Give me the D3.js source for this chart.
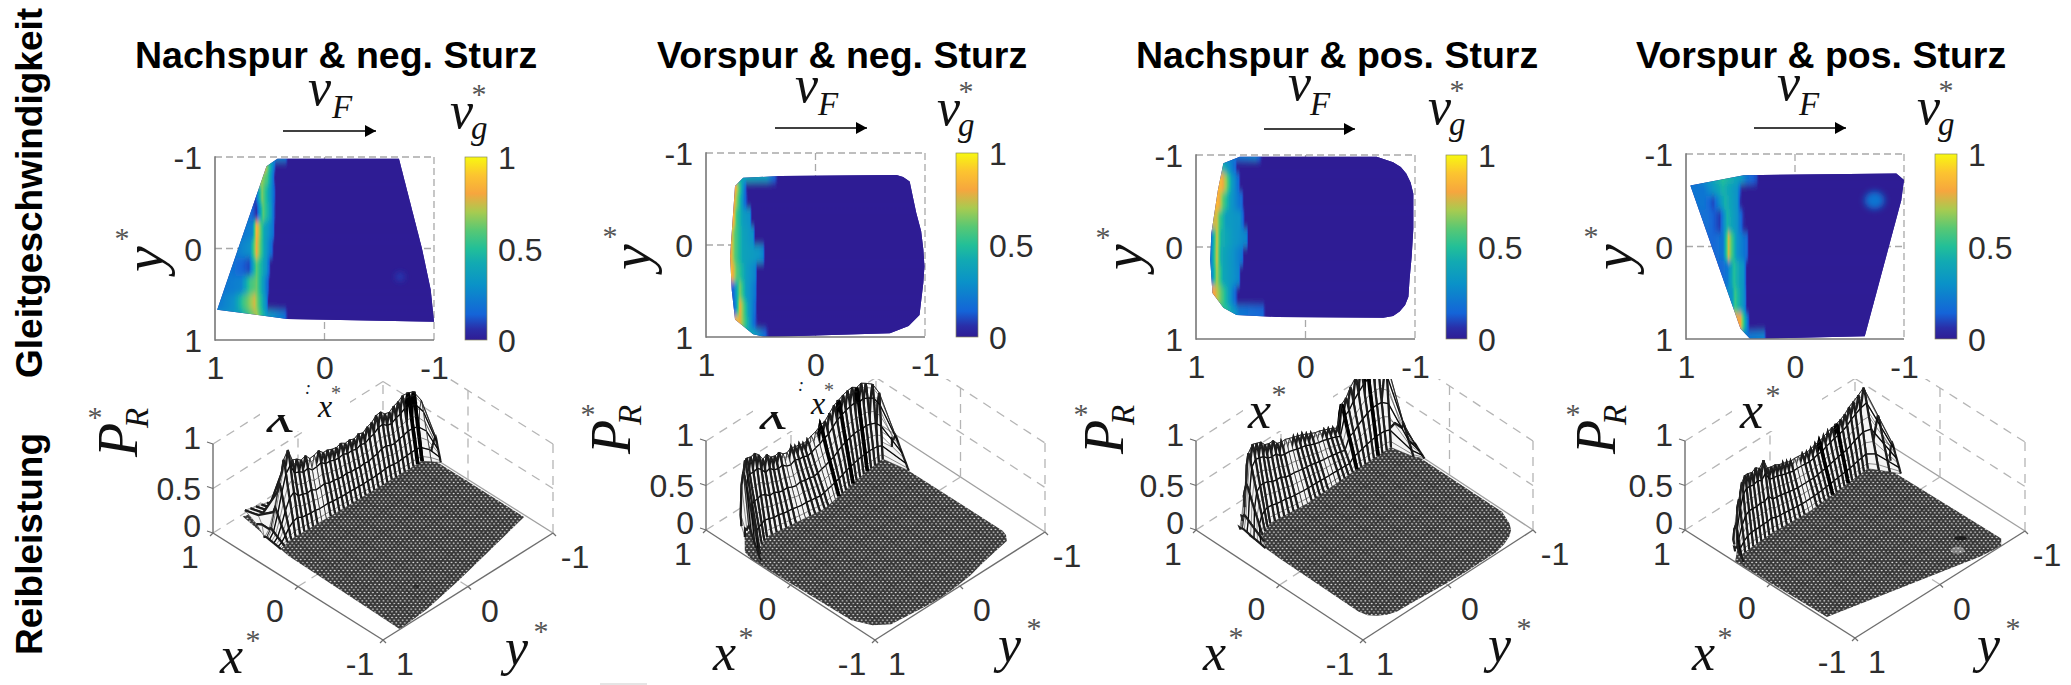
<!DOCTYPE html>
<html><head><meta charset="utf-8">
<script src="https://d3js.org/d3.v7.min.js"></script>
<style>html,body{margin:0;padding:0;background:#fff;overflow:hidden}svg{display:block}</style>
</head><body><svg id="c" width="2071" height="685"></svg>
<script>
// ---------- labels / ticks ----------
const panelTitles = ["Nachspur & neg. Sturz","Vorspur & neg. Sturz","Nachspur & pos. Sturz","Vorspur & pos. Sturz"];
const rowTitles = ["Gleitgeschwindigkeit","Reibleistung"];
const axisTicks = [1,0,-1];
const barTicks = [1,0.5,0];
const zTicks = [1,0.5,0];
const floorGrid = [0.8,0.6,0.4,0.2,0,-0.2,-0.4,-0.6,-0.8];
const colorStops = [0,0.06,0.14,0.3,0.42,0.5,0.6,0.7,0.8,0.9,1];
const colorValues = ["#2f1c94","#2a2ea8","#1464d8","#0a92c8","#12aab2","#22bf98","#58c874","#a8cb50","#f6a63e","#fcc430","#f8f810"];

// ---------- footprint outlines (x*, y*) ----------
const outline1X = [.43,.53,.98,.34,-1,-.97,-.89,-.68];
const outline1Y = [-.98,-.9,.67,.77,.8,.45,0,-.98];
const outline2X = [.66,.735,.78,.765,.735,.57,.46,-.68,-.85,-.95,-.985,-.995,-.985,-.965,-.92,-.89,-.86,-.8,-.74,.32];
const outline2Y = [-.73,-.64,.12,.49,.81,.97,1,.96,.88,.76,.41,.23,.05,-.15,-.35,-.52,-.69,-.74,-.76,-.75];
const outline3X = [.6,.75,.8,.86,.87,.85,.75,.63,.26,-.71,-.8,-.86,-.91,-.94,-.95,-.97,-.985,-.985,-.96,-.92,-.87,-.8,-.65];
const outline3Y = [-.98,-.91,-.62,-.15,.14,.5,.66,.74,.76,.77,.75,.7,.63,.54,.36,.1,-.2,-.58,-.7,-.8,-.87,-.92,-.98];
const outline4X = [.96,.47,-.93,-1,-.975,-.64,.41,.5];
const outline4Y = [-.66,-.77,-.79,-.72,-.5,.97,1,.89];

// ---------- slip velocity rows: [y*, x*, v, x*, v, ...] ----------
const slip1 = [
 [-1,.45,.25,.36,.22,.33,0],
 [-.9,.55,.85,.5,.5,.46,.2,.44,0],
 [-.8,.58,.7,.52,.55,.47,.2,.45,0],
 [-.6,.63,.1,.57,.65,.5,.35,.46,.15,.44,0],
 [-.4,.69,.2,.62,.06,.56,.6,.49,.35,.46,.12,.44,0],
 [-.2,.74,.2,.66,.25,.62,.85,.55,.4,.47,.2,.45,0],
 [0,.8,.22,.68,.3,.62,.8,.55,.4,.48,.15,.46,0],
 [.2,.86,.2,.69,.1,.62,.6,.53,.3,.5,.1,.49,0],
 [.4,.92,.2,.76,.25,.68,.55,.62,.62,.55,.3,.51,.1,.5,0],
 [.6,.98,.2,.83,.3,.74,.55,.64,.75,.57,.45,.53,.25,.51,0],
 [.75,.9,.3,.78,.35,.62,.7,.53,.35,.37,.2,.33,0]];
const slip2 = [
 [-.75,.66,.4,.45,.35,.36,.1,.34,0],
 [-.62,.735,.85,.69,.55,.64,.15,.62,0],
 [-.5,.75,.85,.7,.55,.65,.2,.61,0],
 [-.3,.75,.85,.72,.55,.66,.35,.6,.3,.58,0],
 [-.1,.78,.85,.735,.6,.66,.38,.57,.3,.55,0],
 [.1,.78,.85,.735,.6,.66,.38,.52,.32,.48,.25,.46,0],
 [.3,.77,.88,.72,.6,.63,.35,.55,.25,.53,0],
 [.5,.75,.15,.69,.65,.63,.35,.55,.2,.53,0],
 [.7,.735,.2,.69,.8,.61,.35,.55,.15,.53,0],
 [.85,.705,.85,.63,.5,.57,.2,.52,0],
 [.98,.57,.4,.46,.15,.42,0]];
const slip3 = [
 [-.98,.6,.2,.46,.25,.41,.1,.39,0],
 [-.9,.75,.45,.7,.3,.64,.15,.62,0],
 [-.7,.77,.85,.72,.65,.67,.35,.61,.15,.59,0],
 [-.5,.8,.85,.75,.6,.68,.33,.58,.15,.56,0],
 [-.3,.81,.75,.78,.55,.72,.35,.6,.3,.57,.15,.55,0],
 [-.1,.86,.2,.81,.75,.77,.45,.66,.33,.54,.25,.52,0],
 [.1,.86,.25,.81,.75,.77,.42,.66,.3,.58,.2,.56,0],
 [.3,.85,.3,.81,.7,.75,.4,.61,.25,.59,0],
 [.55,.83,.8,.75,.55,.67,.25,.63,.1,.61,0],
 [.72,.72,.5,.6,.2,.39,.15,.36,0]];
const slip4 = [
 [-.75,.9,.2,.66,.5,.5,.35,.44,.2,.35,.1,.33,0],
 [-.6,.93,.2,.84,.2,.66,.45,.53,.3,.5,.1,.48,0],
 [-.5,.9,.2,.84,.2,.75,.1,.64,.45,.53,.3,.5,.05,.48,0],
 [-.3,.8,.18,.69,.08,.62,.45,.53,.3,.47,.05,.45,0],
 [0,.76,.15,.66,.2,.61,.75,.53,.3,.44,.15,.42,0],
 [.3,.68,.15,.62,.2,.56,.5,.47,.3,.44,0],
 [.6,.58,.3,.55,.55,.5,.4,.46,.25,.44,0],
 [.85,.5,.8,.47,.55,.43,.15,.41,0],
 [.98,.44,.2,.29,.25,.26,0]];
// local slip spots: x*, y*, v
const spot1 = [-.69,.31,.09];
const spot4 = [-.73,-.5,.2];

// ---------- friction power: crest height per mesh row (y* falling in steps of meshStep) ----------
const meshStep = .05;
const meshStart = [.75,.95,.75,.95];
const power1 = [.03,.1,.3,.55,.78,.86,.72,.7,.66,.68,.62,.63,.65,.6,.6,.58,.57,.59,.56,.57,.55,.58,.56,.6,.62,.67,.68,.63,.62,.66,.68,.72,.73,.72,.62,.25];
const power2 = [.3,.8,.88,.86,.84,.85,.8,.72,.74,.68,.66,.67,.62,.6,.63,.6,.6,.57,.58,.6,.62,.66,.68,.74,.8,.83,.86,.88,.89,.86,.88,.85,.83,.72,.3];
const power3 = [.05,.15,.45,.75,.82,.8,.78,.72,.7,.7,.64,.62,.62,.6,.58,.56,.55,.52,.5,.48,.47,.45,.43,.41,.38,.62,.66,.75,.84,.92,.98,1,1,.95,.3,.1];
const power4 = [.12,.3,.55,.7,.74,.72,.7,.72,.68,.74,.62,.6,.59,.56,.54,.52,.5,.5,.49,.48,.47,.48,.5,.5,.53,.55,.57,.58,.6,.63,.68,.71,.76,.82,.55,.28];
// crest / slip-end / footprint-edge position x* along y*: [y* list], [x* list]
const crest1Y=[.75,.5,-.8,-.9,-.95,-1], crest1X=[.62,.62,.57,.54,.5,.38];
const crest2Y=[.97,.9,.8,0,-.6,-.7,-.75], crest2X=[.5,.66,.72,.76,.72,.66,.52];
const crest3Y=[.75,.6,0,-.6,-.85,-.9,-.95,-1], crest3X=[.7,.78,.8,.78,.72,.66,.5,.42];
const crest4Y=[1,.9,.7,0,-.6,-.7,-.75,-.8], crest4X=[.38,.5,.56,.62,.62,.6,.48,.36];
const base1Y=[.75,.6,0,-.9,-1], base1X=[.45,.48,.46,.44,.32];
const base2Y=[.97,.85,.7,.1,-.5,-.7,-.75], base2X=[.38,.52,.58,.5,.6,.62,.36];
const base3Y=[.75,.65,.5,.1,-.5,-.9,-.95,-1], base3X=[.42,.56,.62,.58,.6,.6,.38,.3];
const base4Y=[1,.9,.5,.1,-.3,-.65,-.75,-.8], base4X=[.28,.44,.46,.44,.47,.5,.34,.26];
const edge1Y=[.77,.67,-.9,-1], edge1X=[.34,.98,.53,.43];
const edge2Y=[1,.97,.81,.12,-.64,-.73,-.75], edge2X=[.46,.57,.735,.78,.735,.66,.56];
const edge3Y=[.77,.66,.5,.14,-.62,-.91,-.98], edge3X=[.45,.75,.85,.87,.8,.75,.6];
const edge4Y=[1,.89,-.66,-.77,-.8], edge4X=[.41,.5,.96,.5,.38];
const backZ = [.1,.3,.3,.12];
const shapeT = [0,.08,.2,.35,.5,.65,.8,.92,1];
const shapeZ = [1,.95,.82,.65,.5,.35,.2,.07,0];
const contourT = [.2,.5,.8];
const whiteRows = [[.25,.2,-.95],[.35,.3,0,-.05],[.15,.1,-.2,-.25],[.1,.05]];
const foldRows = [[-.85,-.9],[-.1,-.3,-.5],[-.5,-.75],[-.2,-.4]];

// ---------- layout ----------
const layouts = [
 {box:[215,434,157,340],bar:[465,487],L:[213,533],B:[383,640],R:[553,533],title:135,arrow:[283,376,131],v:[308,105,332,118],vg:[450,128],yL:[163,272,122,234],pd:0,top:0},
 {box:[706,925,153,337],bar:[956,978],L:[706,530],B:[875,640],R:[1045,532],title:657,arrow:[775,867,128],v:[795,102,818,115],vg:[937,125],yL:[650,270,610,232],pd:0,top:0},
 {box:[1196,1415,155,339],bar:[1446,1467],L:[1196,530],B:[1363,640],R:[1533,530],title:1136,arrow:[1264,1355,129],v:[1288,100,1310,115],vg:[1428,124],yL:[1142,270,1103,233],pd:3,top:1},
 {box:[1686,1904,154,339],bar:[1935,1957],L:[1685,530],B:[1855,638],R:[2025,531],title:1636,arrow:[1754,1846,128],v:[1777,100,1799,115],vg:[1917,124],yL:[1632,270,1591,232],pd:6,top:2}];
const zHeight = 89, clipTop = 379;
const sans = "'Liberation Sans',Arial,sans-serif", serif = "'Liberation Serif','Times New Roman',serif";
const tickCol = "#2e2e2e";

const svg = d3.select("#c");
const defs = svg.append("defs");
const color = d3.scaleLinear().domain(colorStops).range(colorValues).clamp(true);

// filters and patterns
defs.append("filter").attr("id","rowBlur").attr("x","-5%").attr("y","-20%").attr("width","110%").attr("height","140%")
  .append("feGaussianBlur").attr("stdDeviation","0.6 3.5");
defs.append("filter").attr("id","spotBlur").attr("x","-100%").attr("y","-100%").attr("width","300%").attr("height","300%")
  .append("feGaussianBlur").attr("stdDeviation","3");
const pat = defs.append("pattern").attr("id","floorDots").attr("patternUnits","userSpaceOnUse").attr("width",4.25).attr("height",5.5);
pat.append("rect").attr("width",4.25).attr("height",5.5).attr("fill","#383838");
pat.selectAll("ellipse").data([[1.06,1.37],[3.19,4.12]]).join("ellipse").attr("cx",d=>d[0]).attr("cy",d=>d[1]).attr("rx",.95).attr("ry",.75).attr("fill","#f0f0f0");
const arrowMarker = defs.append("marker").attr("id","arrowHead").attr("markerUnits","userSpaceOnUse").attr("markerWidth",12).attr("markerHeight",12).attr("refX",11).attr("refY",6).attr("orient","auto");
arrowMarker.append("path").attr("d","M0,0L11,6L0,12Z").attr("fill","#000");

function text(g,str,x,y,size,o={}){
  const t=g.append("text").attr("x",x).attr("y",y).attr("font-size",size)
    .attr("font-family",o.family||serif).attr("fill",o.fill||"#000").text(str);
  if(o.italic) t.attr("font-style","italic");
  if(o.bold) t.attr("font-weight","bold");
  if(o.anchor) t.attr("text-anchor",o.anchor);
  if(o.rot) t.attr("transform",`rotate(${o.rot} ${x} ${y})`);
  return t;
}
function star(g,cx,cy,size=30,rot=0){
  text(g,"*",cx,cy+0.47*size,size,{fill:"#555",anchor:"middle"}).attr("transform",rot?`rotate(${rot} ${cx} ${cy})`:null);
}
const mi=(g,s,x,y,sz,o={})=>text(g,s,x,y,sz,Object.assign({italic:true,fill:"#111"},o));

// row titles
text(svg,rowTitles[0],42,378,37,{family:sans,bold:true,rot:-90});
text(svg,rowTitles[1],42,655,37,{family:sans,bold:true,rot:-90});

const outlines=[[outline1X,outline1Y],[outline2X,outline2Y],[outline3X,outline3Y],[outline4X,outline4Y]];
const slips=[slip1,slip2,slip3,slip4];
const spots=[spot1,null,null,spot4];
const powers=[power1,power2,power3,power4];
const crests=[[crest1Y,crest1X],[crest2Y,crest2X],[crest3Y,crest3X],[crest4Y,crest4X]];
const bases=[[base1Y,base1X],[base2Y,base2X],[base3Y,base3X],[base4Y,base4X]];
const edges=[[edge1Y,edge1X],[edge2Y,edge2X],[edge3Y,edge3X],[edge4Y,edge4X]];

panelTitles.forEach((title,p)=>{
  const lay=layouts[p], g=svg.append("g");
  const [x0,x1,y0,y1]=lay.box;
  const xS=d3.scaleLinear([1,-1],[x0,x1]), yS=d3.scaleLinear([-1,1],[y0,y1]);
  text(g,title,lay.title,67.5,37.5,{family:sans,bold:true});

  // ---- 2D plot frame ----
  const gridCol="#a9a9a9";
  const dash=(gg,a,b,c,d,col=gridCol,w=1.3)=>gg.append("line").attr("x1",a).attr("y1",b).attr("x2",c).attr("y2",d).attr("stroke",col).attr("stroke-width",w).attr("stroke-dasharray","7 4");
  dash(g,x0,y0,x1,y0); dash(g,x1,y0,x1,y1);
  dash(g,xS(0),y0,xS(0),y1); dash(g,x0,yS(0),x1,yS(0));

  // heat rows
  const [ox,oy]=outlines[p];
  const outPts=ox.map((v,i)=>[xS(v),yS(oy[i])]);
  const clipId="foot"+p;
  defs.append("clipPath").attr("id",clipId).append("path").attr("d",d3.line()(outPts)+"Z");
  const heatClip=g.append("g").attr("clip-path",`url(#${clipId})`);
  heatClip.append("rect").attr("x",x0-5).attr("y",y0-5).attr("width",x1-x0+10).attr("height",y1-y0+10).attr("fill",color(0));
  const heat=heatClip.append("g").attr("filter","url(#rowBlur)");
  const rows=slips[p];
  rows.forEach((row,i)=>{
    const y=row[0], id=`sl${p}_${i}`;
    const pairs=d3.range(1,row.length,2).map(k=>[row[k],row[k+1]]);
    const grad=defs.append("linearGradient").attr("id",id).attr("gradientUnits","userSpaceOnUse")
      .attr("x1",xS(1)).attr("x2",xS(-1)).attr("y1",0).attr("y2",0);
    const off=d3.scaleLinear([1,-1],[0,1]);
    pairs.forEach((a,k)=>{
      const b=pairs[k+1];
      if(!b){grad.append("stop").attr("offset",off(a[0])).attr("stop-color",color(a[1]));return;}
      d3.range(0,6).forEach(s=>{const f=s/6;
        grad.append("stop").attr("offset",off(a[0]+(b[0]-a[0])*f)).attr("stop-color",color(a[1]+(b[1]-a[1])*f));});
    });
    const top=i? (rows[i-1][0]+y)/2 : -1.2, bot=i<rows.length-1? (rows[i+1][0]+y)/2 : 1.2;
    heat.append("rect").attr("x",x0-10).attr("width",x1-x0+20).attr("y",yS(top)).attr("height",yS(bot)-yS(top)+.5).attr("fill",`url(#${id})`);
  });
  if(spots[p]){const s=spots[p];
    heatClip.append("ellipse").attr("cx",xS(s[0])).attr("cy",yS(s[1])).attr("rx",p==3?10:4).attr("ry",p==3?9:4)
      .attr("fill",color(s[2])).attr("filter","url(#spotBlur)");}

  // solid left / bottom axis, ticks through d3 axes
  const axCol="#777";
  g.append("line").attr("x1",x0).attr("y1",y0-.7).attr("x2",x0).attr("y2",y1+.7).attr("stroke",axCol).attr("stroke-width",1.6);
  g.append("line").attr("x1",x0).attr("y1",y1).attr("x2",x1).attr("y2",y1).attr("stroke",axCol).attr("stroke-width",1.6);
  const styleAxis=a=>{a.select(".domain").remove();a.selectAll("line").remove();
    a.selectAll("text").attr("font-family",sans).attr("font-size",32).attr("fill",tickCol);};
  g.append("g").attr("transform",`translate(${x0},0)`).call(d3.axisLeft(yS).tickValues(axisTicks).tickFormat(String).tickPadding(13).tickSize(0)).call(styleAxis)
    .attr("font-family",null).selectAll("text").attr("dy","0.36em");
  g.append("g").attr("transform",`translate(0,${y1})`).call(d3.axisBottom(xS).tickValues(axisTicks).tickFormat(String).tickPadding(16).tickSize(0)).call(styleAxis)
    .selectAll("text").attr("dy","0.72em");

  // y* label
  const [yb,ys,sx,sy]=lay.yL;
  mi(g,"y",yb,ys,58,{rot:-90});
  star(g,sx,sy,30);

  // travel arrow, v_F
  const [a0,a1,ay]=lay.arrow;
  g.append("line").attr("x1",a0).attr("x2",a1).attr("y1",ay).attr("y2",ay).attr("stroke","#000").attr("stroke-width",1.6).attr("marker-end","url(#arrowHead)");
  mi(g,"v",lay.v[0],lay.v[1],52);
  mi(g,"F",lay.v[2],lay.v[3],33);

  // ---- colour bar ----
  const [b0,b1]=lay.bar, barS=d3.scaleLinear([0,1],[y1,y0]);
  const bid="bar"+p, bg=defs.append("linearGradient").attr("id",bid).attr("x1",0).attr("x2",0).attr("y1",1).attr("y2",0);
  colorStops.forEach((s,i)=>bg.append("stop").attr("offset",s).attr("stop-color",colorValues[i]));
  g.append("rect").attr("x",b0).attr("y",y0).attr("width",b1-b0).attr("height",y1-y0).attr("fill",`url(#${bid})`).attr("stroke","#8a8a60").attr("stroke-width",.7);
  g.append("g").attr("transform",`translate(${b1},0)`).call(d3.axisRight(barS).tickValues(barTicks).tickFormat(String).tickPadding(11).tickSize(0)).call(styleAxis)
    .selectAll("text").attr("dy","0.36em");
  const [vgx,vgy]=lay.vg;
  mi(g,"v",vgx,vgy,52);
  mi(g,"g",vgx+21,vgy+11,33);
  star(g,vgx+29,vgy-38,30);

  // ---- 3D plot ----
  const L=lay.L,B=lay.B,R=lay.R;
  const uS=d3.scaleLinear([1,-1],[0,1]), vS=d3.scaleLinear([1,-1],[0,1]), zS=d3.scaleLinear([0,1],[0,zHeight]);
  const proj=(x,y,z=0)=>[L[0]+uS(x)*(B[0]-L[0])+vS(y)*(R[0]-B[0]), L[1]+uS(x)*(B[1]-L[1])+vS(y)*(R[1]-B[1])-zS(z)];
  const pid="top"+p;
  defs.append("clipPath").attr("id",pid).append("rect").attr("x",L[0]-60).attr("y",clipTop).attr("width",R[0]-L[0]+120).attr("height",320);
  const s3=g.append("g").attr("clip-path",`url(#${pid})`);
  const lineP=(gg,a,b,o={})=>{const A=proj(...a),C=proj(...b);
    const l=gg.append("line").attr("x1",A[0]).attr("y1",A[1]).attr("x2",C[0]).attr("y2",C[1]).attr("stroke",o.c||"#b5b5b5").attr("stroke-width",o.w||1.3);
    if(!o.solid) l.attr("stroke-dasharray","9 7");};
  // back walls
  zTicks.forEach(z=>{
    lineP(s3,[1,1,z],[1,-1,z]);
    lineP(s3,[1,-1,z],[-1,-1,z],z==0?{solid:true,c:"#a0a0a0"}:{});
  });
  lineP(s3,[1,-1,0],[1,-1,1]);
  lineP(s3,[1,0,0],[1,0,1]);
  lineP(s3,[0,-1,0],[0,-1,1]);
  lineP(s3,[-1,-1,0],[-1,-1,1]);
  lineP(s3,[0,1,0],[0,-1,0]);
  lineP(s3,[1,0,0],[-1,0,0]);
  // white box behind the upper x* label
  s3.append("rect").attr("x",L[0]+47).attr("y",clipTop).attr("width",90).attr("height",52).attr("fill","#fff");

  // floor mesh
  const floorPts=ox.map((v,i)=>proj(v,oy[i]));
  const fid="floor"+p;
  defs.append("clipPath").attr("id",fid).append("path").attr("d",d3.line()(floorPts)+"Z");
  s3.append("path").attr("d",d3.line()(floorPts)+"Z").attr("fill","url(#floorDots)");
  const fg=s3.append("g").attr("clip-path",`url(#${fid})`);
  floorGrid.forEach(v=>{lineP(fg,[v,1],[v,-1],{solid:true,c:"#222",w:.7});lineP(fg,[1,v],[-1,v],{solid:true,c:"#222",w:.7});});
  fg.selectAll("line").attr("stroke-opacity",.45);
  if(spots[p]){const s=spots[p],q=proj(s[0],s[1]);
    fg.append("ellipse").attr("cx",q[0]+1).attr("cy",q[1]-(p==3?5:0)).attr("rx",p==3?6.5:3).attr("ry",p==3?2.2:2).attr("fill","#111").attr("opacity",p==3?.8:.5);
    if(p==3) fg.append("ellipse").attr("cx",q[0]-2).attr("cy",q[1]+7).attr("rx",7).attr("ry",3.5).attr("fill","#fff").attr("opacity",.35);}

  // ridge mesh, far rows first
  const power=powers[p];
  const crestF=d3.scaleLinear().domain(crests[p][0]).range(crests[p][1]).clamp(true);
  const baseF=d3.scaleLinear().domain(bases[p][0]).range(bases[p][1]).clamp(true);
  const edgeF=d3.scaleLinear().domain(edges[p][0]).range(edges[p][1]).clamp(true);
  const shape=d3.scaleLinear().domain(shapeT).range(shapeZ);
  const rowOf=i=>{
    const y=+(meshStart[p]-i*meshStep).toFixed(2);
    const c=crestF(y), b=baseF(y), e=Math.max(edgeF(y),c+.02), h=power[i], bz=Math.min(backZ[p],h*.8);
    const pts=[[e,y,bz*.6],[(e+c)/2+.02,y,bz],[c+.02,y,h*.8],[c,y,h]];
    shapeT.slice(1).forEach(t=>pts.push([c+(b-c)*t,y,h*shape(t)]));
    return {y,pts,cont:contourT.map(t=>proj(c+(b-c)*t,y,h*shape(t)))};
  };
  const meshRows=power.map((_,i)=>rowOf(i));
  const lg=d3.line();
  const mg=s3.append("g");
  const rowStroke=(sel,y)=>{
    const isWhite=whiteRows[p].includes(y), isFold=foldRows[p].includes(y);
    sel.attr("fill","none").attr("stroke",isFold?"#000":"#1c1c1c").attr("stroke-width",isFold?3.6:(isWhite?.7:2.2));
  };
  d3.range(power.length-1,0,-1).forEach(i=>{
    // strip between far row (i) and nearer row (i-1)
    const far=meshRows[i], near=meshRows[i-1];
    const fp=far.pts.map(q=>proj(...q)), np=near.pts.map(q=>proj(...q));
    mg.append("path").attr("d",lg(fp.concat(np.slice().reverse()))+"Z").attr("fill","#f4f4f4").attr("stroke","none");
    mg.append("path").attr("d",lg(fp)).call(rowStroke,far.y);
    fp.forEach((q,k)=>{
      mg.append("line").attr("x1",q[0]).attr("y1",q[1]).attr("x2",np[k][0]).attr("y2",np[k][1]).attr("stroke","#333").attr("stroke-width",.55);
    });
    near.cont.forEach((q,k)=>{
      mg.append("line").attr("x1",far.cont[k][0]).attr("y1",far.cont[k][1]).attr("x2",q[0]).attr("y2",q[1]).attr("stroke","#0a0a0a").attr("stroke-width",1.3);
    });
    mg.append("path").attr("d",lg(np)).call(rowStroke,near.y);
  });
  // crest outline
  mg.append("path").attr("d",lg(meshRows.map(r=>proj(...r.pts[3])))).attr("fill","none").attr("stroke","#222").attr("stroke-width",.9);

  // 3D axes
  const ax=(a,b)=>lineP(g,a,b,{solid:true,c:"#6e6e6e",w:1.4});
  ax([1,1,0],[-1,1,0]); ax([-1,1,0],[-1,-1,0]); ax([1,1,0],[1,1,1]);
  zTicks.forEach(z=>{const q=proj(1,1,z);g.append("line").attr("x1",q[0]-6).attr("y1",q[1]-2).attr("x2",q[0]).attr("y2",q[1]).attr("stroke","#6e6e6e").attr("stroke-width",1.2);
    text(g,z,q[0]-12,q[1]+ (z==1?5:(z==.5?11:4)),32,{family:sans,fill:tickCol,anchor:"end"});});
  axisTicks.forEach(v=>{
    const q=proj(v,1,0), r=proj(-1,v,0);
    g.append("line").attr("x1",q[0]-3).attr("y1",q[1]+3).attr("x2",q[0]).attr("y2",q[1]).attr("stroke","#6e6e6e").attr("stroke-width",1.2);
    g.append("line").attr("x1",r[0]+3).attr("y1",r[1]+3).attr("x2",r[0]).attr("y2",r[1]).attr("stroke","#6e6e6e").attr("stroke-width",1.2);
    text(g,v,q[0]-23,q[1]+35,32,{family:sans,fill:tickCol,anchor:"middle"});
    text(g,v,r[0]+22,r[1]+35,32,{family:sans,fill:tickCol,anchor:"middle"});
  });

  // P_R*
  const d=lay.pd;
  mi(g,"P",L[0]-76+d,L[1]-76,56,{rot:-90});
  mi(g,"R",L[0]-65+d,L[1]-105,33,{rot:-90});
  star(g,L[0]-118+d,L[1]-120,30);
  // x*, y* lower labels
  mi(g,"x",L[0]+7,L[1]+140,52);
  star(g,L[0]+40,L[1]+103,30);
  mi(g,"y",L[0]+292,L[1]+132,52);
  star(g,L[0]+328,L[1]+94,30);
  // upper x* label, partly covered by the 2D plot above
  if(lay.top===0){
    const cid="lam"+p;
    defs.append("clipPath").attr("id",cid).append("rect").attr("x",L[0]+40).attr("y",L[1]-118).attr("width",60).attr("height",40);
    mi(g,"x",L[0]+54,L[1]-101,62).attr("clip-path",`url(#${cid})`);
    mi(g,"x",L[0]+105,L[1]-116,32);
    star(g,L[0]+123,L[1]-142,20);
    mi(g,":",L[0]+92,L[1]-139,18,{fill:"#123"});
  } else if(lay.top===1){
    mi(g,"x",L[0]+52,L[1]-102,52);
    const cid="st"+p;
    defs.append("clipPath").attr("id",cid).append("rect").attr("x",L[0]+70).attr("y",clipTop+7).attr("width",30).attr("height",40);
    star(g.append("g").attr("clip-path",`url(#${cid})`),L[0]+83,L[1]-140,30);
  } else {
    mi(g,"x",L[0]+55,L[1]-102,52);
    star(g,L[0]+88,L[1]-139,30);
  }
});
// faint stray rule under the second panel
svg.append("line").attr("x1",600).attr("x2",647).attr("y1",684).attr("y2",684).attr("stroke","#ccc").attr("stroke-width",1.2);
</script></body></html>
